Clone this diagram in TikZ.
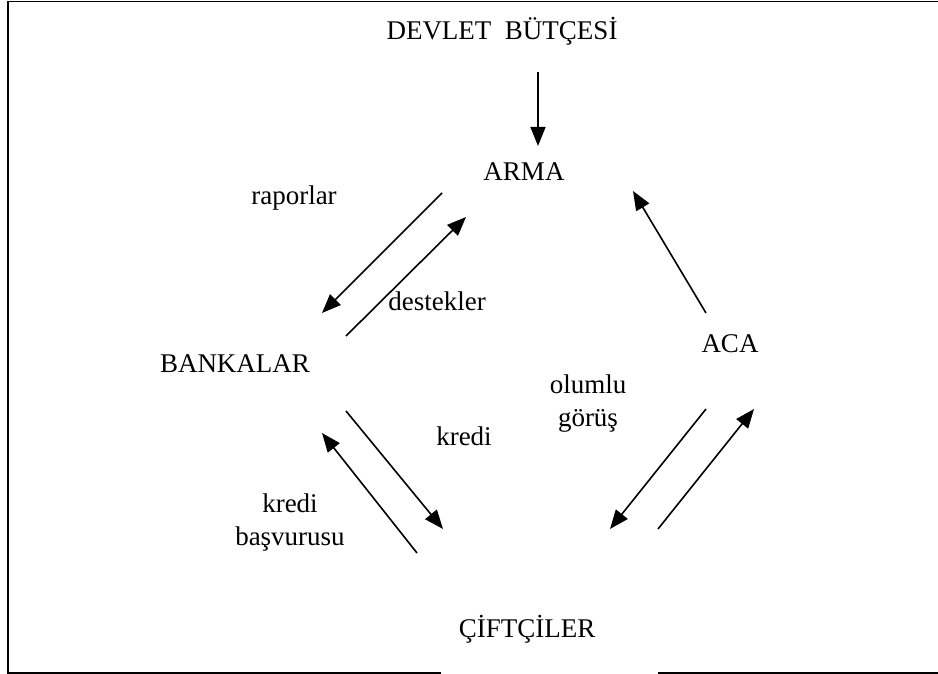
\documentclass[tikz,border=0pt]{standalone}
\usepackage{fontspec}
\setmainfont{Liberation Serif}
\usetikzlibrary{arrows.meta}
\begin{document}
\begin{tikzpicture}[x=1pt,y=-1pt,
  lbl/.style={font=\fontsize{27}{33}\selectfont, inner sep=0pt, anchor=base, align=center},
  arr/.style={line width=1.6pt, -{Triangle[length=19pt,width=15pt]}},
  frame/.style={line width=1.6pt}]
\useasboundingbox (0,0) rectangle (938,674);
% frame
\draw[frame] (441,673) -- (8,673) -- (8,1.5) -- (938,1.5);
\draw[frame] (658,673) -- (938,673);
% main nodes
\node[lbl] (devlet) at (502,40) {DEVLET\ \ BÜTÇESİ};
\node[lbl] (arma) at (524,181) {ARMA};
\node[lbl] (banka) at (235,372) {BANKALAR};
\node[lbl] (aca) at (730,352) {ACA};
\node[lbl] (ciftci) at (527,637) {ÇİFTÇİLER};
% labels
\node[lbl] (rap) at (294,205) {raporlar};
\node[lbl] (des) at (437,310) {destekler};
\node[lbl] (kre) at (464,445) {kredi};
\node[lbl] (bas) at (290,545) {kredi\\başvurusu};
\node[lbl] (olu) at (588,426) {olumlu\\görüş};
% arrow end points
\coordinate (d1) at (538,72);   \coordinate (d2) at (538,146);
\coordinate (r1) at (442,193);  \coordinate (r2) at (322,313);
\coordinate (s1) at (346,336);  \coordinate (s2) at (466,217);
\coordinate (a1) at (706,313);  \coordinate (a2) at (633,191);
\coordinate (o1) at (706,409);  \coordinate (o2) at (610,529);
\coordinate (c1) at (658,529);  \coordinate (c2) at (754,409);
\coordinate (k1) at (346,411);  \coordinate (k2) at (443,529);
\coordinate (b1) at (417,553);  \coordinate (b2) at (322,433);
% connectors
\draw[arr] (d1) -- (d2);
\draw[arr] (r1) -- (r2);
\draw[arr] (s1) -- (s2);
\draw[arr] (a1) -- (a2);
\draw[arr] (o1) -- (o2);
\draw[arr] (c1) -- (c2);
\draw[arr] (k1) -- (k2);
\draw[arr] (b1) -- (b2);
\end{tikzpicture}
\end{document}
